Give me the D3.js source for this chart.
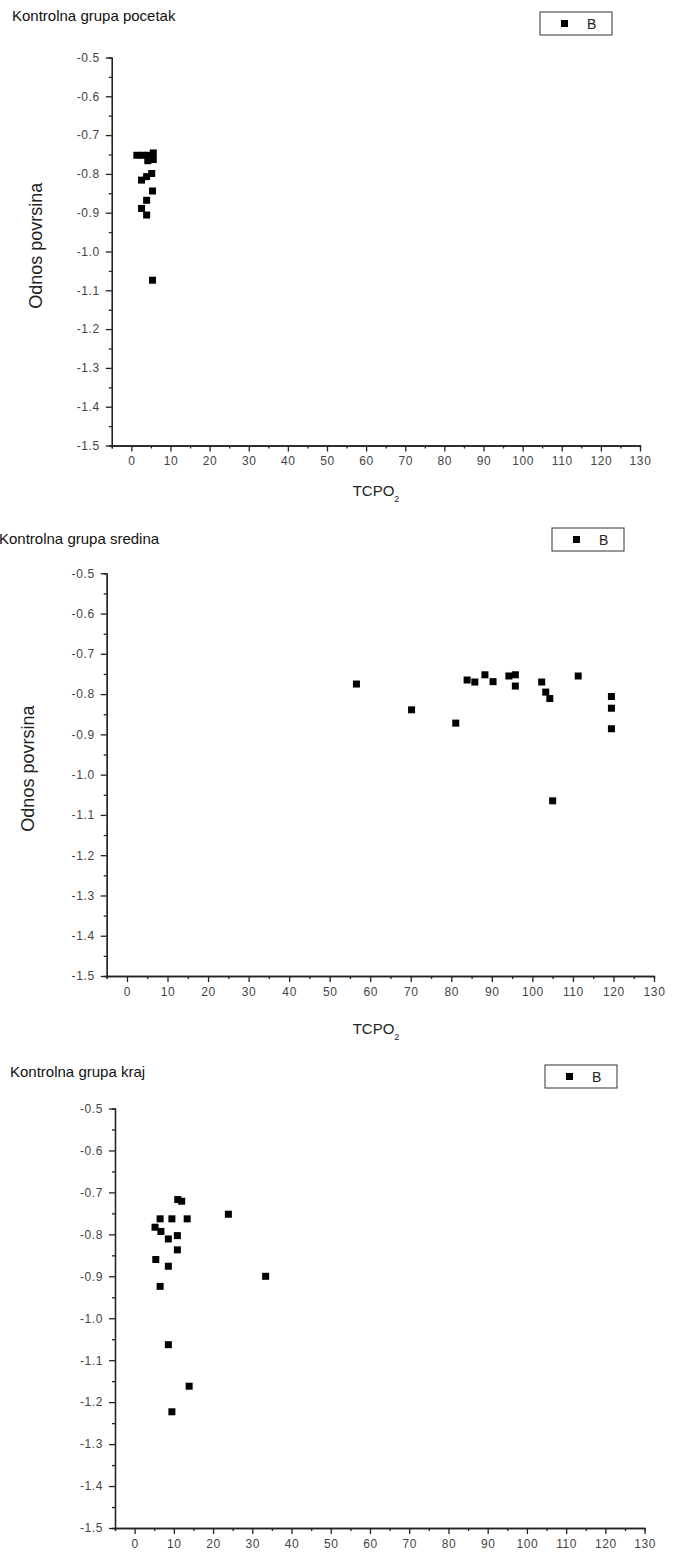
<!DOCTYPE html>
<html lang="en">
<head>
  <meta charset="UTF-8">
  <title>Kontrolna grupa</title>
  <style>
    body { margin: 0; background: #fff; }
    svg { display: block; font-family: "Liberation Sans", Arial, sans-serif; }
    .tick text { fill: #444; font-size: 12px; letter-spacing: 0.6px; }
    .domain, .tick line { stroke: #222; stroke-width: 1.3px; }
  </style>
</head>
<body>
<div id="chart"></div>
<script src="https://cdn.jsdelivr.net/npm/d3@7"></script>
<script>
// x tick values (TCPO2) and y tick values (Odnos povrsina)
let xMajor = [0, 10, 20, 30, 40, 50, 60, 70, 80, 90, 100, 110, 120, 130]
let xMinor = [-5, 5, 15, 25, 35, 45, 55, 65, 75, 85, 95, 105, 115, 125]
let yMajor = [-0.5, -0.6, -0.7, -0.8, -0.9, -1.0, -1.1, -1.2, -1.3, -1.4, -1.5]
let yMinor = [-0.55, -0.65, -0.75, -0.85, -0.95, -1.05, -1.15, -1.25, -1.35, -1.45]
let seriesName = 'B'

// Kontrolna grupa pocetak
let pocetakX = [1.4, 2.8, 4.2, 5.6, 5.6, 4.2, 2.6, 3.9, 5.2, 5.4, 3.9, 2.6, 3.9, 5.4]
let pocetakY = [-0.752, -0.752, -0.752, -0.746, -0.763, -0.766, -0.816, -0.807, -0.799, -0.844, -0.868, -0.889, -0.906, -1.074]

// Kontrolna grupa sredina
let sredinaX = [56.6, 70.2, 81.1, 83.9, 85.8, 88.3, 90.3, 94.2, 95.8, 95.8, 102.3, 103.3, 104.3, 111.3, 119.5, 119.5, 119.5, 105]
let sredinaY = [-0.775, -0.839, -0.872, -0.765, -0.770, -0.752, -0.769, -0.755, -0.752, -0.780, -0.770, -0.795, -0.811, -0.755, -0.806, -0.835, -0.886, -1.065]

// Kontrolna grupa kraj
let krajX = [11.0, 12.0, 23.9, 6.5, 9.5, 13.4, 5.2, 6.7, 10.9, 8.6, 10.9, 5.4, 8.6, 33.4, 6.5, 8.6, 13.9, 9.5]
let krajY = [-0.717, -0.721, -0.752, -0.763, -0.763, -0.763, -0.783, -0.793, -0.803, -0.811, -0.837, -0.860, -0.876, -0.900, -0.924, -1.063, -1.162, -1.223]

// layout of the three stacked panels (pixel positions only)
let panels = [
  { title: 'Kontrolna grupa pocetak', xs: pocetakX, ys: pocetakY,
    left: 111.8, right: 640, top: 57.5, bottom: 445.5,
    titleX: 12, titleY: 21, legX: 540, legY: 12, yLabelX: 42, xLabelX: 376, xLabelY: 496, yLabel: true, xLabel: true },
  { title: 'Kontrolna grupa sredina', xs: sredinaX, ys: sredinaY,
    left: 106.7, right: 654, top: 573.3, bottom: 976,
    titleX: -1, titleY: 544, legX: 552, legY: 528, yLabelX: 34, xLabelX: 376, xLabelY: 1034, yLabel: true, xLabel: true },
  { title: 'Kontrolna grupa kraj', xs: krajX, ys: krajY,
    left: 115, right: 644.6, top: 1108.5, bottom: 1528,
    titleX: 10, titleY: 1077, legX: 545, legY: 1065, yLabelX: 0, xLabelX: 0, xLabelY: 0, yLabel: false, xLabel: false }
]

let width = 673
let height = 1559
let svg = d3.select('#chart').append('svg').attr('width', width).attr('height', height)
svg.append('rect').attr('width', width).attr('height', height).attr('fill', '#fff')

let fmt = d => d.toFixed(1)

panels.forEach(p => drawPanel(p))

function drawPanel (p) {
  let g = svg.append('g')
  let x = d3.scaleLinear().domain([-5, 130]).range([p.left, p.right])
  let y = d3.scaleLinear().domain([-0.5, -1.5]).range([p.top, p.bottom])

  // minor ticks first, then the labelled axes on top
  g.append('g').attr('transform', 'translate(0,' + p.bottom + ')')
    .call(d3.axisBottom(x).tickValues(xMinor).tickSize(3).tickFormat(''))
  g.append('g').attr('transform', 'translate(' + p.left + ',0)')
    .call(d3.axisLeft(y).tickValues(yMinor).tickSize(3).tickFormat(''))
  g.append('g').attr('transform', 'translate(0,' + p.bottom + ')')
    .call(d3.axisBottom(x).tickValues(xMajor).tickSize(6).tickSizeOuter(0).tickPadding(5).tickFormat(d => d))
  g.append('g').attr('transform', 'translate(' + p.left + ',0)')
    .call(d3.axisLeft(y).tickValues(yMajor).tickSize(6).tickSizeOuter(0).tickPadding(6).tickFormat(fmt))

  g.selectAll('.pt').data(p.xs.map((v, i) => ({ x: v, y: p.ys[i] })))
    .enter().append('rect')
    .attr('x', d => x(d.x) - 3.5)
    .attr('y', d => y(d.y) - 3.5)
    .attr('width', 7).attr('height', 7)
    .attr('fill', '#000')

  g.append('text').attr('x', p.titleX).attr('y', p.titleY)
    .attr('font-size', 15).attr('fill', '#111').text(p.title)

  if (p.yLabel) {
    g.append('text')
      .attr('transform', 'translate(' + p.yLabelX + ',' + y(-0.985) + ') rotate(-90)')
      .attr('text-anchor', 'middle').attr('font-size', 18).attr('fill', '#222')
      .text('Odnos povrsina')
  }
  if (p.xLabel) {
    let t = g.append('text').attr('x', p.xLabelX).attr('y', p.xLabelY)
      .attr('text-anchor', 'middle').attr('font-size', 15).attr('fill', '#222')
    t.append('tspan').text('TCPO')
    t.append('tspan').attr('font-size', 9).attr('dy', 6).text('2')
  }

  // legend box
  let lg = g.append('g').attr('transform', 'translate(' + p.legX + ',' + p.legY + ')')
  lg.append('rect').attr('width', 72).attr('height', 23)
    .attr('fill', '#fff').attr('stroke', '#333').attr('stroke-width', 1)
  lg.append('rect').attr('x', 21).attr('y', 8).attr('width', 7).attr('height', 7).attr('fill', '#000')
  lg.append('text').attr('x', 47).attr('y', 17).attr('font-size', 14).attr('fill', '#222').text(seriesName)
}
</script>
</body>
</html>
